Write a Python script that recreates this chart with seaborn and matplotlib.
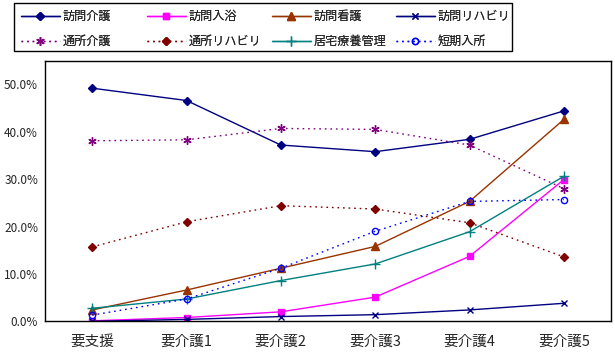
import matplotlib
matplotlib.use("Agg")
import matplotlib.pyplot as plt
import matplotlib.patches as mpatches
import seaborn as sns
import pandas as pd
from matplotlib.ticker import PercentFormatter

# カテゴリ（要介護度）
categories = ["要支援", "要介護1", "要介護2", "要介護3", "要介護4", "要介護5"]

# 各サービスの利用率（%）
houmon_kaigo = [49.2, 46.6, 37.2, 35.8, 38.4, 44.4]
houmon_nyuyoku = [0.1, 0.8, 2.0, 5.1, 13.7, 29.9]
houmon_kango = [2.4, 6.6, 11.2, 15.8, 25.3, 42.6]
houmon_riha = [0.0, 0.4, 1.0, 1.4, 2.4, 3.8]
tsusho_kaigo = [38.1, 38.3, 40.7, 40.5, 37.2, 28.0]
tsusho_riha = [15.7, 21.0, 24.4, 23.7, 20.8, 13.6]
kyotaku_ryoyo = [2.75, 4.7, 8.6, 12.1, 18.9, 30.6]
tanki_nyusho = [1.3, 4.7, 11.2, 19.0, 25.3, 25.7]

series = {
    "訪問介護": houmon_kaigo,
    "訪問入浴": houmon_nyuyoku,
    "訪問看護": houmon_kango,
    "訪問リハビリ": houmon_riha,
    "通所介護": tsusho_kaigo,
    "通所リハビリ": tsusho_riha,
    "居宅療養管理": kyotaku_ryoyo,
    "短期入所": tanki_nyusho,
}

# 線のスタイル
dot = (0, (1.2, 2.8))
styles = {
    "訪問介護": dict(color="#000080", ls="-", marker="D", ms=4, mfc="#000080"),
    "訪問入浴": dict(color="#FF00FF", ls="-", marker="s", ms=4.5, mfc="#FF00FF"),
    "訪問看護": dict(color="#993300", ls="-", marker="^", ms=5.5, mfc="#993300"),
    "訪問リハビリ": dict(color="#000080", ls="-", marker="x", ms=4, mfc="#000080"),
    "通所介護": dict(color="#800080", ls=dot, marker=(6, 2, 0), ms=6, mfc="#800080"),
    "通所リハビリ": dict(color="#800000", ls=dot, marker="D", ms=4, mfc="#800000"),
    "居宅療養管理": dict(color="#008080", ls="-", marker="+", ms=7, mfc="#008080"),
    "短期入所": dict(color="#0000FF", ls=dot, marker="o", ms=4.5, mfc="none"),
}

rows = []
for name, vals in series.items():
    for i, v in enumerate(vals):
        rows.append({"サービス": name, "区分": i, "割合": v / 100})
df = pd.DataFrame(rows)

sns.set_style("white")
plt.rcParams["font.family"] = ["Noto Sans CJK JP", "DejaVu Sans"]

W, H = 615, 355
fig = plt.figure(figsize=(W / 100, H / 100), dpi=100)
ax = fig.add_axes([45 / W, (H - 321.3) / H, (611 - 45) / W, (321.3 - 60.7) / H])

handles = {}
for name in series:
    st = styles[name]
    sub = df[df["サービス"] == name]
    sns.lineplot(data=sub, x="区分", y="割合", ax=ax, color=st["color"],
                 linestyle=st["ls"], linewidth=1.0, marker=st["marker"],
                 markersize=st["ms"], markerfacecolor=st["mfc"],
                 markeredgecolor=st["color"], markeredgewidth=1.0,
                 label=name, legend=False)
    handles[name] = ax.get_lines()[-1]

ax.set_xlim(-0.5, len(categories) - 0.5)
ax.set_ylim(0, 0.55)
ax.set_xticks(range(len(categories)))
ax.set_xticklabels(categories, fontsize=10.5)
ax.set_yticks([0, 0.1, 0.2, 0.3, 0.4, 0.5])
ax.yaxis.set_major_formatter(PercentFormatter(1.0, decimals=1))
ax.tick_params(axis="y", direction="in", length=3, width=1, pad=5, labelsize=8.5)
ax.tick_params(axis="x", length=0, pad=10)
ax.set_xlabel("")
ax.set_ylabel("")
for sp in ax.spines.values():
    sp.set_color("black")
    sp.set_linewidth(1.0)

# 凡例：4列を等間隔に配置
columns = [["訪問介護", "通所介護"], ["訪問入浴", "通所リハビリ"],
           ["訪問看護", "居宅療養管理"], ["訪問リハビリ", "短期入所"]]
col_x = [21, 147, 272, 396]
for names, x in zip(columns, col_x):
    leg = fig.legend([handles[n] for n in names], names, loc="center left",
                     bbox_to_anchor=(x / W, 1 - 29 / H), frameon=False,
                     fontsize=8.7, handlelength=3.2, handletextpad=0.25,
                     labelspacing=1.0, borderpad=0, borderaxespad=0)
    fig.add_artist(leg)

fig.add_artist(mpatches.Rectangle((14 / W, 1 - 51 / H), 498 / W, 48 / H,
                                  transform=fig.transFigure, fill=False,
                                  edgecolor="black", linewidth=1.0))

fig.savefig("out.png", dpi=100)
